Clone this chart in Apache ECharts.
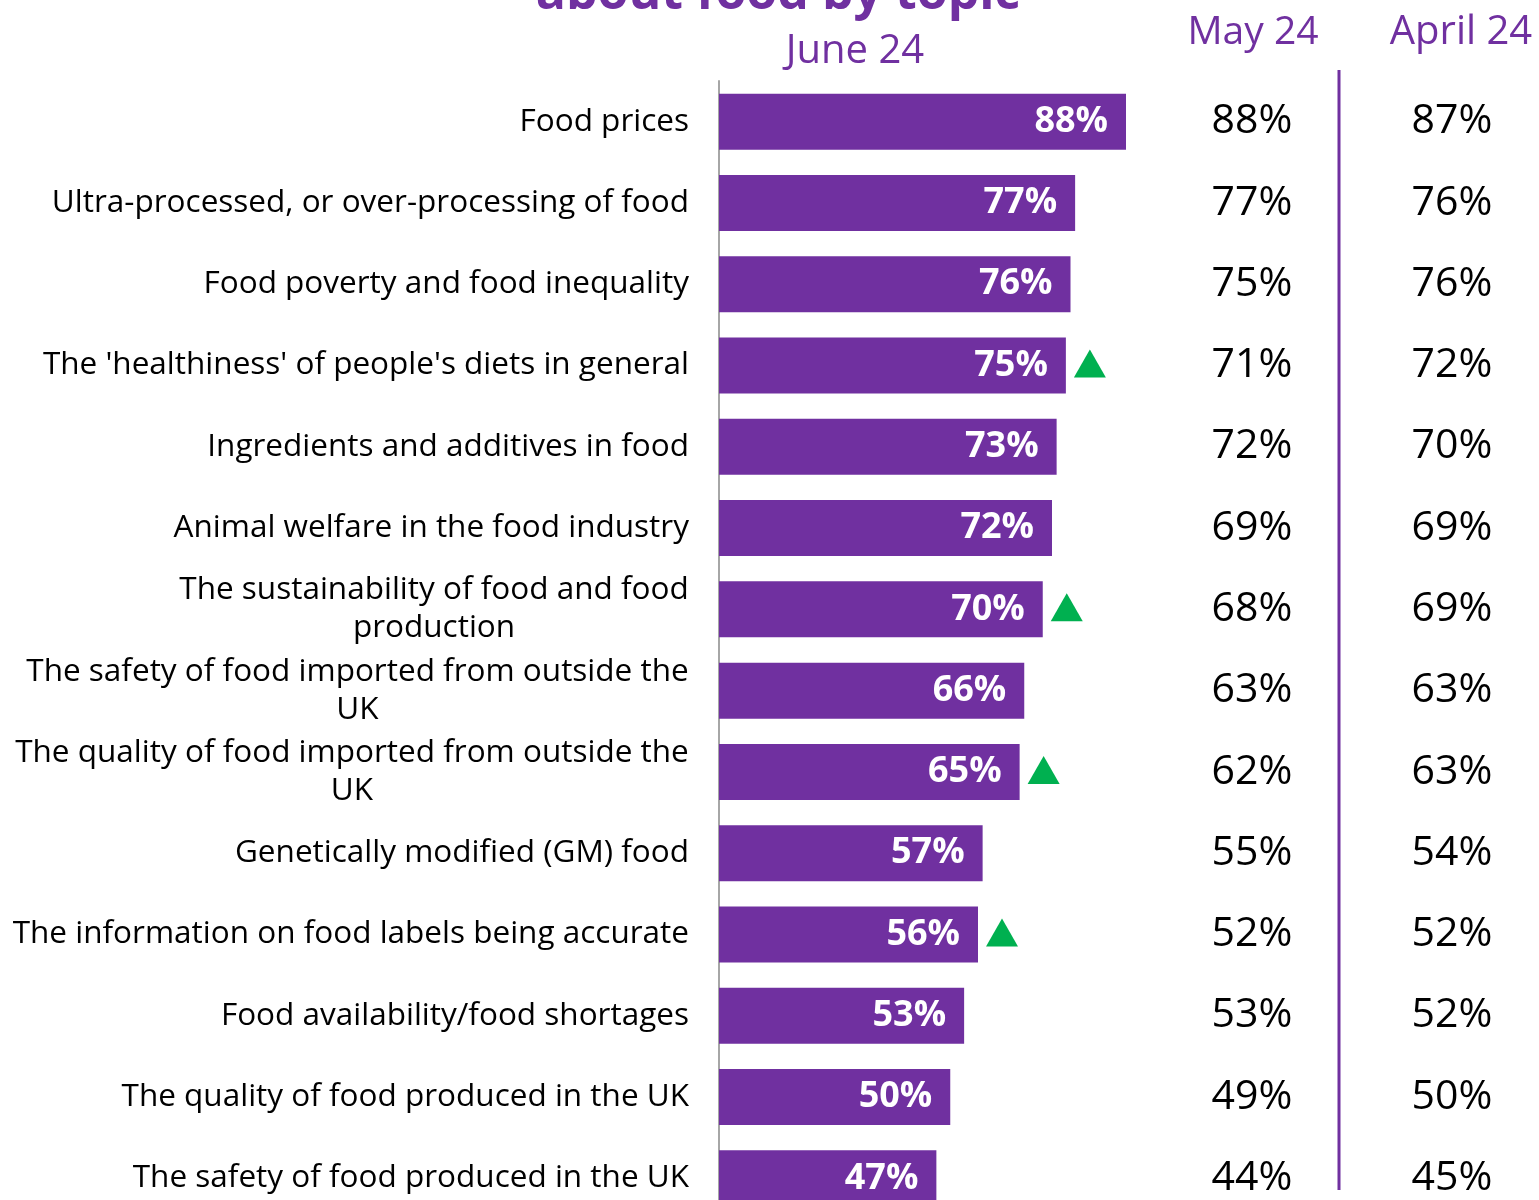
<!DOCTYPE html>
<html>
<head>
<meta charset="utf-8">
<script src="https://cdn.jsdelivr.net/npm/echarts@6/dist/echarts.min.js"></script>
<style>html,body{margin:0;padding:0;background:#fff}#c{width:1539px;height:1200px}</style>
</head>
<body>
<div id="c"></div>
<script>
const categories = [
  "Food prices",
  "Ultra-processed, or over-processing of food",
  "Food poverty and food inequality",
  "The 'healthiness' of people's diets in general",
  "Ingredients and additives in food",
  "Animal welfare in the food industry",
  "The sustainability of food and food\nproduction",
  "The safety of food imported from outside the\nUK",
  "The quality of food imported from outside the\nUK",
  "Genetically modified (GM) food",
  "The information on food labels being accurate",
  "Food availability/food shortages",
  "The quality of food produced in the UK",
  "The safety of food produced in the UK"
];
const june24 = [88, 77, 76, 75, 73, 72, 70, 66, 65, 57, 56, 53, 50, 47];
const may24 = [88, 77, 75, 71, 72, 69, 68, 63, 62, 55, 52, 53, 49, 44];
const april24 = [87, 76, 76, 72, 70, 69, 69, 63, 63, 54, 52, 52, 50, 45];
const significantRise = [0, 0, 0, 1, 0, 0, 1, 0, 1, 0, 1, 0, 0, 0];
const titleLine = "about food by topic";
const columnHeaders = ["June 24", "May 24", "April 24"];

const PURPLE = '#7030A0';
const FONT = 'Open Sans';
const CAT_SIZE = 31.5;
const TOP = 81, H = 1138;

// measure first-line widths so that wrapped label lines are centred under each other
const ctx = document.createElement('canvas').getContext('2d');
ctx.font = CAT_SIZE + 'px "' + FONT + '"';
const rich = {};
categories.forEach((c, i) => {
  const lines = c.split('\n');
  if (lines.length > 1) {
    const w = Math.max(...lines.map(l => ctx.measureText(l).width));
    rich['m' + i] = {width: Math.ceil(w), align: 'center', fontFamily: FONT,
      fontSize: CAT_SIZE, lineHeight: 38, color: '#000'};
  }
});

const chart = echarts.init(document.getElementById('c'), null, {renderer: 'canvas'});

function colGrid(left) {
  return {left: left, width: 200, top: TOP, height: H, containLabel: false, outerBoundsMode: 'none'};
}

const triData = june24.map((v, i) => significantRise[i] ? [v, i] : null).filter(d => d);

const valueLabel = {show: true, position: 'inside', formatter: p => p.data[2] + '%',
  fontFamily: FONT, fontSize: 41, color: '#000', opacity: 1};

chart.setOption({
  animation: false,
  backgroundColor: '#fff',
  grid: [
    {left: 719, width: 462.5, top: TOP, height: H, containLabel: false, outerBoundsMode: 'none'},
    colGrid(1152),
    colGrid(1352)
  ],
  xAxis: [
    {gridIndex: 0, type: 'value', min: 0, max: 100, show: false},
    {gridIndex: 1, type: 'value', min: -1, max: 1, show: false},
    {gridIndex: 2, type: 'value', min: -1, max: 1, show: false}
  ],
  yAxis: [
    {
      gridIndex: 0, type: 'category', data: categories, inverse: true,
      axisLine: {show: true, lineStyle: {color: '#A6A6A6', width: 2}},
      axisTick: {show: false},
      axisLabel: {
        margin: 30, fontFamily: FONT, fontSize: CAT_SIZE, color: '#000', lineHeight: 38, align: 'right',
        formatter: (v, i) => {
          const lines = v.split('\n');
          return lines.length > 1 ? lines.map(l => '{m' + i + '|' + l + '}').join('\n') : v;
        },
        rich: rich
      }
    },
    {gridIndex: 1, type: 'category', data: categories, inverse: true, show: false},
    {gridIndex: 2, type: 'category', data: categories, inverse: true, show: false}
  ],
  series: [
    {
      type: 'bar', xAxisIndex: 0, yAxisIndex: 0, data: june24, barWidth: 56,
      itemStyle: {color: PURPLE},
      label: {
        show: true, position: 'insideRight', distance: 18, formatter: '{c}%',
        color: '#fff', fontFamily: FONT, fontWeight: 'bold', fontSize: 36
      }
    },
    {
      type: 'scatter', xAxisIndex: 0, yAxisIndex: 0, data: triData,
      symbol: 'triangle', symbolSize: [32, 28], symbolOffset: [24, -2],
      itemStyle: {color: '#00B050', opacity: 1}, z: 5
    },
    {
      type: 'scatter', xAxisIndex: 1, yAxisIndex: 1,
      data: may24.map((v, i) => [0, i, v]), symbolSize: 0,
      itemStyle: {opacity: 1}, label: valueLabel
    },
    {
      type: 'scatter', xAxisIndex: 2, yAxisIndex: 2,
      data: april24.map((v, i) => [0, i, v]), symbolSize: 0,
      itemStyle: {opacity: 1}, label: valueLabel
    }
  ],
  graphic: [
    {type: 'text', style: {text: titleLine, x: 778, y: -5, fill: PURPLE,
      font: 'bold 50px "Open Sans"', textAlign: 'center', textVerticalAlign: 'middle'}},
    {type: 'text', style: {text: columnHeaders[0], x: 855, y: 52, fill: PURPLE,
      font: '40px "Open Sans"', textAlign: 'center', textVerticalAlign: 'middle'}},
    {type: 'text', style: {text: columnHeaders[1], x: 1253, y: 33, fill: PURPLE,
      font: '39px "Open Sans"', textAlign: 'center', textVerticalAlign: 'middle'}},
    {type: 'text', style: {text: columnHeaders[2], x: 1461, y: 33, fill: PURPLE,
      font: '40px "Open Sans"', textAlign: 'center', textVerticalAlign: 'middle'}},
    {type: 'line', shape: {x1: 1339, y1: 70, x2: 1339, y2: 1190},
      style: {stroke: PURPLE, lineWidth: 3}}
  ]
});
</script>
</body>
</html>
